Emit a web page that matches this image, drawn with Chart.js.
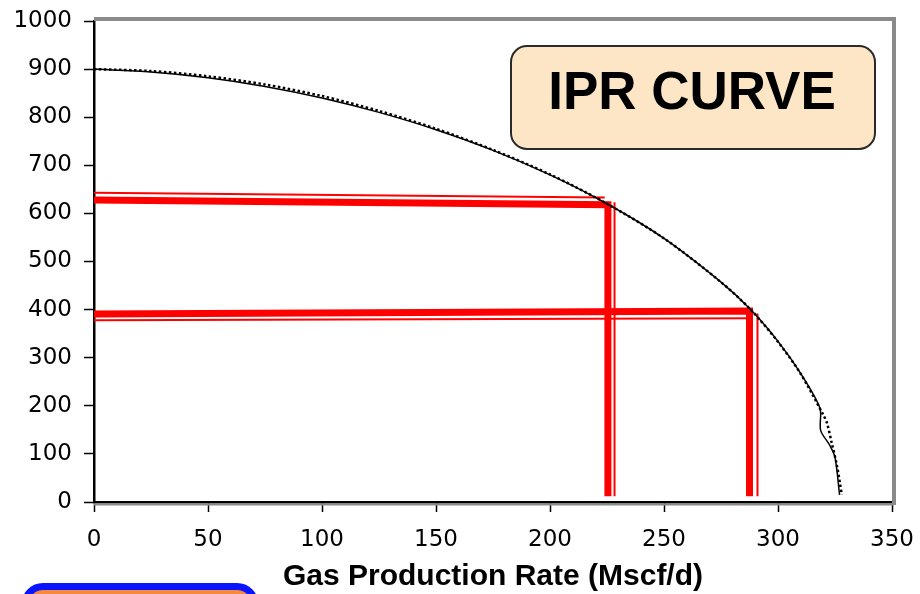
<!DOCTYPE html>
<html>
<head>
<meta charset="utf-8">
<script src="https://cdn.jsdelivr.net/npm/chart.js@4.4.1/dist/chart.umd.min.js"></script>
<style>
  html, body { margin: 0; padding: 0; background: #fff; }
  #wrap { width: 920px; height: 594px; }
</style>
</head>
<body>
<div id="wrap"><canvas id="iprChart" width="920" height="594"></canvas></div>
<script>
// IPR curve, solid trace (gas rate Mscf/d vs flowing pressure psia)
const rateSolid = [0, 25, 50, 75, 100, 125, 150, 175, 200, 225, 250, 275, 288, 300, 310, 318.4, 318.7, 322.7, 325, 327];
const pwfSolid  = [900, 894, 882, 864, 840, 810, 774, 731, 680, 620, 548, 457, 400, 334, 267, 195, 149, 118, 93, 15];

// IPR curve, dotted trace
const rateDotted = [0, 25, 50, 75, 100, 125, 150, 175, 200, 225, 250, 275, 288, 300, 310, 320, 321.5, 323.5, 325.8, 328];
const pwfDotted  = [900, 896, 885, 868, 844, 813, 776, 732, 681, 620, 548, 457, 400, 333, 266, 180, 164, 124, 77, 15];

// red read-off lines (thick and thin pairs)
const thickA_x = [0, 225.4, 225.4];
const thickA_y = [628, 618, 12];
const thinA_hx = [0, 224];
const thinA_hy = [643, 633];
const thinA_vx = [228.3, 228.3];
const thinA_vy = [623, 12];

const thickB_x = [0, 287.5, 287.5];
const thickB_y = [391, 397, 12];
const thinB_hx = [0, 288.5];
const thinB_hy = [378, 382];
const thinB_vx = [291, 291];
const thinB_vy = [392, 12];

const xTicks = [0, 50, 100, 150, 200, 250, 300, 350];
const yTicks = [0, 100, 200, 300, 400, 500, 600, 700, 800, 900, 1000];

function pts(xs, ys) {
  return xs.map((x, i) => ({ x: x, y: ys[i] }));
}

function line(xs, ys, color, width, dash, tension) {
  return {
    data: pts(xs, ys),
    showLine: true,
    borderColor: color,
    borderWidth: width,
    borderDash: dash || [],
    pointRadius: 0,
    fill: false,
    tension: tension || 0,
    borderCapStyle: 'butt',
    borderJoinStyle: 'miter'
  };
}

// frame, title box and the partial blue box at the bottom
const decorations = {
  id: 'decorations',
  beforeDatasetsDraw(chart) {
    const { ctx, chartArea: a } = chart;
    ctx.save();
    ctx.strokeStyle = '#8a8a8a';
    ctx.lineWidth = 4;
    ctx.beginPath();
    ctx.moveTo(a.left, a.top - 2);
    ctx.lineTo(a.right + 2, a.top - 2);
    ctx.lineTo(a.right + 2, a.bottom + 3);
    ctx.stroke();
    ctx.lineWidth = 2;
    ctx.beginPath();
    ctx.moveTo(a.left, a.bottom + 2.5);
    ctx.lineTo(a.right + 2, a.bottom + 2.5);
    ctx.stroke();
    ctx.restore();
  },
  afterDraw(chart) {
    const { ctx } = chart;
    ctx.save();
    // title box
    ctx.beginPath();
    ctx.roundRect(511, 46, 364, 103, 16);
    ctx.fillStyle = '#fde6c6';
    ctx.fill();
    ctx.lineWidth = 2;
    ctx.strokeStyle = '#2a2a2a';
    ctx.stroke();
    ctx.fillStyle = '#000';
    ctx.font = 'bold 53px "Liberation Sans", Arial, sans-serif';
    ctx.textAlign = 'center';
    ctx.textBaseline = 'middle';
    ctx.fillText('IPR CURVE', 692, 94);
    // blue box peeking in at the bottom
    ctx.beginPath();
    ctx.roundRect(25, 586.5, 230, 40, 18);
    ctx.fillStyle = '#f58a3e';
    ctx.fill();
    ctx.lineWidth = 7;
    ctx.strokeStyle = '#0a14ff';
    ctx.stroke();
    ctx.restore();
  }
};

const ctx = document.getElementById('iprChart').getContext('2d');

new Chart(ctx, {
  type: 'scatter',
  data: {
    datasets: [
      line(rateDotted, pwfDotted, '#000', 2.5, [2.5, 2.5], 0.3),
      line(rateSolid, pwfSolid, '#000', 1.5, null, 0.3),
      line(thickA_x, thickA_y, '#ff0000', 7),
      line(thinA_hx, thinA_hy, '#ff0000', 2),
      line(thinA_vx, thinA_vy, '#ff0000', 2),
      line(thickB_x, thickB_y, '#ff0000', 7),
      line(thinB_hx, thinB_hy, '#ff0000', 2),
      line(thinB_vx, thinB_vy, '#ff0000', 2)
    ]
  },
  options: {
    responsive: false,
    animation: false,
    events: [],
    layout: { padding: { left: 0, top: 21, right: 28, bottom: 0 } },
    plugins: {
      legend: { display: false },
      tooltip: { enabled: false }
    },
    scales: {
      x: {
        type: 'linear',
        min: 0,
        max: 350,
        afterBuildTicks: (scale) => { scale.ticks = xTicks.map(v => ({ value: v })); },
        afterFit: (scale) => {
          scale.height = 92;
          scale.paddingLeft = 0;
          scale.paddingRight = 0;
        },
        grid: { drawOnChartArea: false, tickLength: 10, color: '#000', tickColor: '#000', tickWidth: 1.5 },
        border: { display: true, color: '#000', width: 2.5 },
        ticks: {
          color: '#000',
          padding: 14,
          maxRotation: 0,
          font: { family: '"DejaVu Sans"', size: 23 },
          callback: (value) => String(value)
        },
        title: {
          display: true,
          text: 'Gas Production Rate (Mscf/d)',
          color: '#000',
          padding: { top: 0, bottom: 2 },
          font: { family: '"Liberation Sans", Arial, sans-serif', size: 30, weight: 'bold', lineHeight: 1 }
        }
      },
      y: {
        type: 'linear',
        min: 0,
        max: 1000,
        afterBuildTicks: (scale) => { scale.ticks = yTicks.map(v => ({ value: v })); },
        afterFit: (scale) => {
          scale.width = 94;
          scale.paddingTop = 0;
          scale.paddingBottom = 0;
        },
        grid: { drawOnChartArea: false, tickLength: 10, color: '#000', tickColor: '#000', tickWidth: 1.5 },
        border: { display: true, color: '#000', width: 2.5 },
        ticks: {
          color: '#000',
          padding: 12,
          font: { family: '"DejaVu Sans"', size: 23 },
          callback: (value) => String(value)
        }
      }
    }
  },
  plugins: [decorations]
});
</script>
</body>
</html>
